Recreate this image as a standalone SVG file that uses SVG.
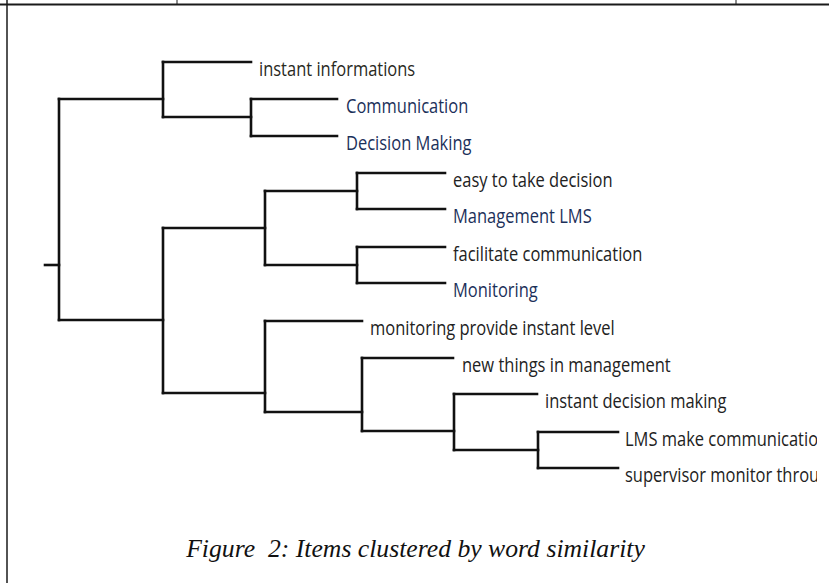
<svg xmlns="http://www.w3.org/2000/svg" width="829" height="583" viewBox="0 0 829 583">
<style>
.frame{stroke:#1a1a1a;fill:none}
.tree line{stroke:#111;stroke-width:2.6;stroke-linecap:square}
.lbl{font-family:"Open Sans","Noto Sans","DejaVu Sans",sans-serif;font-size:16.5px;fill:#222}
.blue{fill:#1b305a}
.olive{fill:#29291d}
.cap{font-family:"Liberation Serif","Times New Roman",serif;font-style:italic;font-size:25.7px;fill:#111}
</style>
<defs>
<clipPath id="edge"><rect x="0" y="0" width="817" height="583"/></clipPath>
</defs>
<rect x="0" y="0" width="829" height="583" fill="#fff"/>
<g id="frame">
<line class="frame" x1="0" y1="4.5" x2="829" y2="4.5" stroke-width="2"/>
<line class="frame" x1="7" y1="0" x2="7" y2="583" stroke-width="1.5"/>
<line class="frame" x1="177" y1="0" x2="177" y2="4" stroke-width="1"/>
<line class="frame" x1="736" y1="0" x2="736" y2="4" stroke-width="1"/>
</g>
<g id="connectors" class="tree">
<line x1="45" y1="265" x2="59" y2="265"/>
<line x1="59" y1="99" x2="59" y2="320"/>
<line x1="59" y1="99" x2="163" y2="99"/>
<line x1="59" y1="320" x2="163" y2="320"/>
<line x1="163" y1="62" x2="163" y2="117"/>
<line x1="163" y1="62" x2="251" y2="62"/>
<line x1="163" y1="117" x2="251" y2="117"/>
<line x1="251" y1="99" x2="251" y2="136"/>
<line x1="251" y1="99" x2="337" y2="99"/>
<line x1="251" y1="136" x2="337" y2="136"/>
<line x1="163" y1="228" x2="163" y2="393"/>
<line x1="163" y1="228" x2="265" y2="228"/>
<line x1="163" y1="393" x2="265" y2="393"/>
<line x1="265" y1="191" x2="265" y2="265"/>
<line x1="265" y1="191" x2="357" y2="191"/>
<line x1="265" y1="265" x2="357" y2="265"/>
<line x1="357" y1="173" x2="357" y2="209"/>
<line x1="357" y1="173" x2="445" y2="173"/>
<line x1="357" y1="209" x2="445" y2="209"/>
<line x1="357" y1="247" x2="357" y2="283"/>
<line x1="357" y1="247" x2="445" y2="247"/>
<line x1="357" y1="283" x2="445" y2="283"/>
<line x1="265" y1="321" x2="265" y2="412"/>
<line x1="265" y1="321" x2="362" y2="321"/>
<line x1="265" y1="412" x2="362" y2="412"/>
<line x1="362" y1="358" x2="362" y2="431"/>
<line x1="362" y1="358" x2="453" y2="358"/>
<line x1="362" y1="431" x2="454" y2="431"/>
<line x1="454" y1="394" x2="454" y2="450"/>
<line x1="454" y1="394" x2="537" y2="394"/>
<line x1="454" y1="450" x2="538" y2="450"/>
<line x1="538" y1="432" x2="538" y2="468"/>
<line x1="538" y1="432" x2="618" y2="432"/>
<line x1="538" y1="468" x2="618" y2="468"/>
</g>
<g id="n-instant-informations"><text class="lbl olive" transform="translate(259,76) scale(1,1.25)">instant informations</text></g>
<g id="n-communication"><text class="lbl blue" transform="translate(346,113) scale(1,1.25)">Communication</text></g>
<g id="n-decision-making"><text class="lbl blue" transform="translate(346,150) scale(1,1.25)">Decision Making</text></g>
<g id="n-easy"><text class="lbl" transform="translate(453,187) scale(1,1.25)">easy to take decision</text></g>
<g id="n-management-lms"><text class="lbl blue" transform="translate(453,223) scale(1,1.25)">Management LMS</text></g>
<g id="n-facilitate"><text class="lbl" transform="translate(453,261) scale(1,1.25)">facilitate communication</text></g>
<g id="n-monitoring"><text class="lbl blue" transform="translate(453,297) scale(1,1.25)">Monitoring</text></g>
<g id="n-monitoring-provide"><text class="lbl" transform="translate(370,335) scale(1,1.25)">monitoring provide instant level</text></g>
<g id="n-new-things"><text class="lbl" transform="translate(462,372) scale(1,1.25)">new things in management</text></g>
<g id="n-instant-decision"><text class="lbl" transform="translate(545,408) scale(1,1.25)">instant decision making</text></g>
<g id="n-lms-make" clip-path="url(#edge)"><text class="lbl" transform="translate(625,446) scale(1,1.25)">LMS make communicatio</text></g>
<g id="n-supervisor" clip-path="url(#edge)"><text class="lbl" transform="translate(625,482) scale(1,1.25)">supervisor monitor throu</text></g>
<g id="caption"><text class="cap" x="415.5" y="557" text-anchor="middle" xml:space="preserve">Figure  2: Items clustered by word similarity</text></g>
</svg>
